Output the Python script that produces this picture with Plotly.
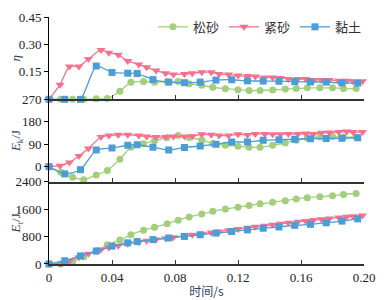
import plotly.graph_objects as go
from plotly.subplots import make_subplots

# ---- data ----
names = ["松砂", "紧砂", "黏土"]

x_loose = [0, 0.0075, 0.015, 0.022, 0.030, 0.037, 0.045, 0.052, 0.060, 0.067, 0.075, 0.082, 0.089,
           0.097, 0.104, 0.112, 0.120, 0.127, 0.134, 0.142, 0.150, 0.157, 0.164, 0.172, 0.180, 0.187, 0.195]
eta_loose = [0, 0, 0, 0, 0.003, 0.004, 0.044, 0.094, 0.097, 0.094, 0.097, 0.097, 0.085,
             0.077, 0.066, 0.058, 0.053, 0.048, 0.048, 0.051, 0.056, 0.059, 0.063, 0.063, 0.063, 0.059, 0.059]
ek_loose = [0, -22, -42, -52, -33, -15, 30, 78, 92, 104, 117, 125, 117,
            107, 93, 86, 82, 78, 78, 86, 95, 106, 115, 119, 121, 119, 119]
et_loose = [0, 0, 60, 210, 380, 560, 700, 850, 985, 1070, 1174, 1279, 1373,
            1458, 1535, 1600, 1657, 1705, 1753, 1799, 1847, 1896, 1932, 1961, 1989, 2026, 2055]

x_dense = [0, 0.007, 0.013, 0.019, 0.025, 0.033, 0.038, 0.044, 0.050, 0.057, 0.062, 0.068,
           0.074, 0.079, 0.086, 0.091, 0.097, 0.103, 0.108, 0.114, 0.120, 0.126, 0.131, 0.137,
           0.142, 0.147, 0.152, 0.158, 0.163, 0.168, 0.173, 0.178, 0.184, 0.189, 0.193, 0.199]
eta_dense = [0, 0.08, 0.18, 0.18, 0.22, 0.27, 0.255, 0.243, 0.21, 0.19, 0.175, 0.157,
             0.143, 0.136, 0.139, 0.143, 0.148, 0.148, 0.138, 0.136, 0.130, 0.127, 0.125, 0.120,
             0.120, 0.117, 0.111, 0.111, 0.111, 0.106, 0.106, 0.106, 0.102, 0.102, 0.099, 0.099]
ek_dense = [0, 4, 17, 43, 73, 119, 125, 128, 128, 125, 121, 119,
            119, 121, 121, 122, 130, 128, 125, 125, 130, 127, 131, 131,
            130, 130, 131, 131, 133, 131, 136, 137, 139, 141, 139, 139]
et_dense = [0, 10, 90, 200, 300, 420, 480, 530, 590, 640, 680, 715,
            750, 780, 820, 850, 885, 920, 950, 985, 1020, 1055, 1085, 1115,
            1145, 1175, 1200, 1230, 1255, 1280, 1305, 1330, 1355, 1375, 1395, 1412]

x_clay = [0, 0.010, 0.020, 0.030, 0.040, 0.050, 0.056, 0.066, 0.076, 0.086, 0.096,
          0.106, 0.116, 0.126, 0.136, 0.146, 0.156, 0.166, 0.176, 0.186, 0.196]
eta_clay = [0, 0, 0, 0.182, 0.147, 0.143, 0.141, 0.108, 0.094, 0.091, 0.094,
            0.105, 0.107, 0.101, 0.100, 0.099, 0.097, 0.095, 0.094, 0.090, 0.089]
ek_clay = [0, -29, -12, 67, 75, 86, 88, 78, 67, 77, 83,
           90, 99, 99, 106, 108, 110, 112, 113, 114, 116]
et_clay = [0, 94, 236, 378, 520, 617, 654, 711, 759, 804, 853,
           901, 946, 995, 1043, 1080, 1128, 1157, 1202, 1250, 1316]

x_ticks = [0, 0.04, 0.08, 0.12, 0.16, 0.20]
x_ticklabels = ["0", "0.04", "0.08", "0.12", "0.16", "0.20"]
eta_ticks = [0.15, 0.30, 0.45]
eta_ticklabels = ["0.15", "0.30", "0.45"]
ek_ticks = [0, 90, 180, 270]
et_ticks = [0, 800, 1600, 2400]

# ---- styles ----
colors = ["#a3cf7d", "#f7708d", "#4b9dd7"]
symbols = ["circle", "triangle-down", "square"]
msizes = [7, 8, 7]

series = [
    (x_loose, [eta_loose, ek_loose, et_loose]),
    (x_dense, [eta_dense, ek_dense, et_dense]),
    (x_clay, [eta_clay, ek_clay, et_clay]),
]

fig = make_subplots(rows=3, cols=1, shared_xaxes=True, vertical_spacing=0)

for i, (xs, ys_list) in enumerate(series):
    for r, ys in enumerate(ys_list):
        fig.add_trace(go.Scatter(
            x=xs, y=ys, mode="lines+markers", name=names[i],
            line=dict(color=colors[i], width=1.3, shape="spline", smoothing=0.6),
            marker=dict(symbol=symbols[i], size=msizes[i], color=colors[i]),
            showlegend=(r == 0), legendrank=i,
            cliponaxis=False,
        ), row=r + 1, col=1)

serif = "Times New Roman, Liberation Serif, serif"
tickfont = dict(family=serif, size=13, color="#222")

for r in range(1, 4):
    fig.update_xaxes(range=[0, 0.2], tickvals=x_ticks, ticktext=x_ticklabels,
                     ticks="inside", ticklen=4, tickcolor="#333",
                     showline=True, linecolor="#333", linewidth=2,
                     showgrid=False, zeroline=False, tickfont=tickfont,
                     showticklabels=(r == 3), automargin=False, row=r, col=1)

common_y = dict(ticks="outside", ticklen=4, tickcolor="#000", showline=True,
                linecolor="#000", linewidth=1, showgrid=False, zeroline=False,
                tickfont=tickfont, automargin=False)
fig.update_yaxes(range=[0, 0.45], tickvals=eta_ticks, ticktext=eta_ticklabels,
                 title=dict(text="<i>η</i>", font=dict(family=serif, size=13), standoff=8),
                 row=1, col=1, **common_y)
fig.update_yaxes(range=[-60, 270], tickvals=ek_ticks,
                 title=dict(text="<i>E</i><sub>k</sub>/J", font=dict(family=serif, size=13), standoff=8),
                 row=2, col=1, **common_y)
fig.update_yaxes(range=[0, 2400], tickvals=et_ticks,
                 title=dict(text="<i>E</i><sub>t</sub>/J", font=dict(family=serif, size=13), standoff=4),
                 row=3, col=1, **common_y)

fig.update_xaxes(title=dict(text="时间/s", font=dict(family="Noto Sans CJK SC", size=12), standoff=4),
                 row=3, col=1)

# page has an 8px body margin, so the figure is sized to fill the rest of the window
fig.update_layout(
    width=380, height=292,
    margin=dict(l=41, r=24, t=4, b=36),
    paper_bgcolor="white", plot_bgcolor="white",
    showlegend=True,
    legend=dict(orientation="h", x=0.33, y=0.96, xanchor="left", yanchor="middle",
                bgcolor="rgba(0,0,0,0)", font=dict(family="Noto Sans CJK SC", size=13, color="#333"),
                itemwidth=30, tracegroupgap=0),
)

fig.write_html("out.html")
